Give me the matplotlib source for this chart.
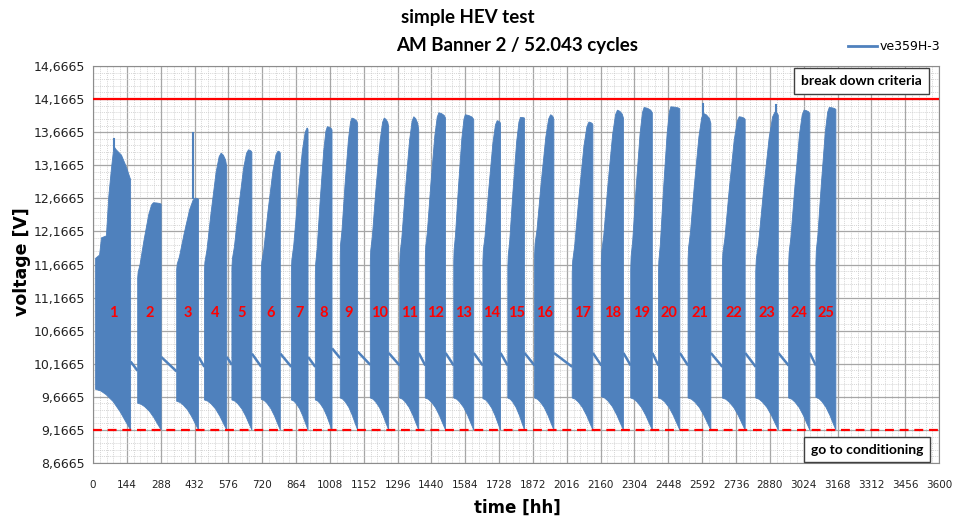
import numpy as np
import matplotlib
matplotlib.use('Agg')
import matplotlib.pyplot as plt
from matplotlib.lines import Line2D
from matplotlib.ticker import FixedLocator, FuncFormatter

# ---------------- data ----------------
block_start = [11, 190, 356, 474, 591, 716, 844, 946, 1052, 1180, 1305, 1414, 1535,
               1659, 1765, 1879, 2039, 2163, 2288, 2406, 2532, 2678, 2820, 2960, 3076]
block_end = [160, 290, 449, 569, 676, 797, 915, 1017, 1126, 1258, 1386, 1500, 1620,
             1734, 1836, 1961, 2127, 2257, 2380, 2497, 2629, 2775, 2916, 3050, 3161]
up_start = [11.78, 11.46, 11.59, 11.56, 11.61, 11.56, 11.56, 11.50, 11.81, 11.71, 11.66, 11.76, 11.71,
            11.71, 11.61, 11.81, 11.54, 11.69, 11.59, 11.51, 11.74, 11.66, 11.56, 11.66, 11.69]
up_peak = [13.42, 12.60, 12.67, 13.35, 13.40, 13.38, 13.73, 13.75, 13.88, 13.88, 13.90, 13.96, 13.93,
           13.84, 13.89, 13.93, 13.82, 14.00, 14.04, 14.05, 13.95, 13.90, 13.97, 14.00, 14.04]
up_end = [13.00, 12.58, 12.65, 13.14, 13.36, 13.35, 13.70, 13.70, 13.80, 13.75, 13.70, 13.88, 13.86,
          13.80, 13.88, 13.86, 13.78, 13.88, 13.96, 14.02, 13.80, 13.86, 13.92, 13.95, 14.01]
peak_frac = [0.58, 0.67, 0.85, 0.75, 0.83, 0.88, 0.94, 0.72, 0.67, 0.76, 0.74, 0.67, 0.58,
             0.81, 0.76, 0.83, 0.81, 0.73, 0.62, 0.58, 0.68, 0.74, 0.85, 0.73, 0.67]
low_start = [9.78, 9.57, 9.60, 9.62, 9.62, 9.63, 9.62, 9.62, 9.65, 9.65, 9.65, 9.65, 9.65,
             9.64, 9.65, 9.65, 9.65, 9.67, 9.65, 9.65, 9.65, 9.65, 9.65, 9.65, 9.66]
low_end = 9.1665

# block 1 has its own stepped upper envelope (time, voltage)
b1_up_t = [11, 28, 36, 57, 67, 78, 89, 99, 121, 142, 156, 160]
b1_up_v = [11.76, 11.81, 12.07, 12.10, 12.69, 13.10, 13.45, 13.40, 13.32, 13.14, 12.99, 12.95]

# shared envelope profiles (fraction of block time -> fraction of voltage change)
rise_u = [0.0, 0.03, 0.15, 0.40, 0.70, 0.88, 1.0]
rise_h = [0.0, 0.08, 0.18, 0.50, 0.84, 0.97, 1.0]
fall_u = [0.0, 0.4, 0.8, 1.0]
fall_g = [0.0, 0.15, 0.5, 1.0]
low_u = [0.0, 0.15, 0.30, 0.50, 0.70, 0.85, 1.0]
low_g = [0.0, 0.04, 0.13, 0.30, 0.55, 0.78, 1.0]

# rest periods between blocks (voltage at start / end of each pause)
rest_v0 = [10.20, 10.27, 10.27, 10.27, 10.32, 10.32, 10.27, 10.40, 10.35, 10.33, 10.33, 10.33,
           10.33, 10.33, 10.33, 10.33, 10.33, 10.33, 10.33, 10.33, 10.33, 10.33, 10.33, 10.33]
rest_v1 = [10.06, 10.05, 10.12, 10.15, 10.12, 10.12, 10.12, 10.25, 10.15, 10.14, 10.14, 10.14,
           10.14, 10.14, 10.14, 10.12, 10.14, 10.14, 10.14, 10.14, 10.12, 10.12, 10.14, 10.14]

# single-sample spikes
spike_t = [89, 427, 2597, 2906]
spike_base = [13.40, 12.67, 13.90, 13.95]
spike_top = [13.56, 13.65, 14.09, 14.08]

break_down = 14.1665
conditioning = 9.1665
label_v = 10.93

x_ticks = list(range(0, 3601, 144))
y_ticks = [8.6665, 9.1665, 9.6665, 10.1665, 10.6665, 11.1665, 11.6665,
           12.1665, 12.6665, 13.1665, 13.6665, 14.1665, 14.6665]

# ---------------- drawing ----------------
BLUE = '#4F81BD'
RED = '#FF0000'

fig = plt.figure(figsize=(9.55, 5.22), dpi=100)
ax = fig.add_axes([0.0974, 0.1130, 0.8859, 0.7605])

rise_u_a = np.array(rise_u); rise_h_a = np.array(rise_h)
fall_u_a = np.array(fall_u); fall_g_a = np.array(fall_g)
low_u_a = np.array(low_u); low_g_a = np.array(low_g)

for i in range(len(block_start)):
    ts, te = block_start[i], block_end[i]
    d = te - ts
    pf = peak_frac[i]
    if i == 0:
        upt = np.array(b1_up_t, dtype=float)
        upv = np.array(b1_up_v)
    else:
        ut = ts + rise_u_a * pf * d
        uv = up_start[i] + rise_h_a * (up_peak[i] - up_start[i])
        ft = ts + (pf + fall_u_a[1:] * (1 - pf)) * d
        fv = up_peak[i] + fall_g_a[1:] * (up_end[i] - up_peak[i])
        upt = np.concatenate([ut, ft])
        upv = np.concatenate([uv, fv])
    lt = ts + low_u_a * d
    lv = low_start[i] + low_g_a * (low_end - low_start[i])
    xs = np.concatenate([upt, lt[::-1]])
    ys = np.concatenate([upv, lv[::-1]])
    ax.fill(xs, ys, facecolor=BLUE, edgecolor=BLUE, lw=0.6, zorder=3)
    ax.text((ts + te) / 2, label_v, str(i + 1), color=RED, fontsize=10.5,
            fontweight='bold', family='Lato', ha='center', va='center', zorder=6)

for i in range(len(block_start) - 1):
    ax.plot([block_end[i], block_start[i + 1]], [rest_v0[i], rest_v1[i]],
            color=BLUE, lw=1.8, zorder=3, solid_capstyle='butt')

for t, b, tp in zip(spike_t, spike_base, spike_top):
    ax.plot([t, t], [b, tp], color=BLUE, lw=1.5, zorder=3)

ax.axhline(break_down, color=RED, lw=1.6, zorder=5)
ax.axhline(conditioning, color=RED, lw=1.6, ls=(0, (4, 2.6)), zorder=5)

ax.set_xlim(0, 3600)
ax.set_ylim(y_ticks[0], y_ticks[-1])
ax.xaxis.set_major_locator(FixedLocator(x_ticks))
ax.yaxis.set_major_locator(FixedLocator(y_ticks))
ax.xaxis.set_minor_locator(FixedLocator(np.arange(0, 3600.1, 28.8)))
ax.yaxis.set_minor_locator(FixedLocator(np.arange(y_ticks[0], y_ticks[-1] + 0.01, 0.1)))
ax.yaxis.set_major_formatter(FuncFormatter(lambda v, p: f"{v:.4f}".replace('.', ',')))
ax.xaxis.set_major_formatter(FuncFormatter(lambda v, p: f"{int(round(v))}"))

ax.grid(which='major', color='#A6A6A6', lw=0.9, zorder=1)
ax.grid(which='minor', color='#C8C8C8', lw=0.5, ls=(0, (1.5, 1.5)), zorder=0)
ax.set_axisbelow(True)
ax.tick_params(which='both', length=0)
ax.tick_params(axis='y', labelsize=9, pad=6, labelcolor='#222222')
ax.tick_params(axis='x', labelsize=7.5, pad=12, labelcolor='#222222')
for s in ax.spines.values():
    s.set_color('#8C8C8C')
    s.set_linewidth(0.8)

box = dict(boxstyle='square,pad=0.5', facecolor='white', edgecolor='#404040', lw=1.0)
ax.text(3270, 14.44, 'break down criteria', fontsize=10, family='Lato', fontweight='bold',
        ha='center', va='center', bbox=box, zorder=7)
ax.text(3293, 8.87, 'go to conditioning', fontsize=10, family='Lato', fontweight='bold',
        ha='center', va='center', bbox=box, zorder=7)

fig.text(468 / 955, 1 - 18 / 522, 'simple HEV test', fontsize=13.5, fontweight='bold',
         family='Lato', ha='center', va='center')
fig.text(517 / 955, 1 - 45 / 522, 'AM Banner 2 / 52.043 cycles', fontsize=13.5, fontweight='bold',
         family='Lato', ha='center', va='center')
fig.text(517 / 955, 1 - 508 / 522, 'time [hh]', fontsize=12, fontweight='bold',
         family='DejaVu Sans', ha='center', va='center')
fig.text(22 / 955, 1 - 262 / 522, 'voltage [V]', fontsize=12.5, fontweight='bold',
         family='DejaVu Sans', ha='center', va='center', rotation=90)

leg = ax.legend(handles=[Line2D([], [], color=BLUE, lw=2, label='ve359H-3')],
                loc='center left', bbox_to_anchor=(848 / 955, 1 - 47 / 522),
                bbox_transform=fig.transFigure, frameon=False, fontsize=9,
                handlelength=2.3, handletextpad=0.2, borderpad=0, borderaxespad=0)

fig.savefig('out.png', dpi=100, facecolor='white')
